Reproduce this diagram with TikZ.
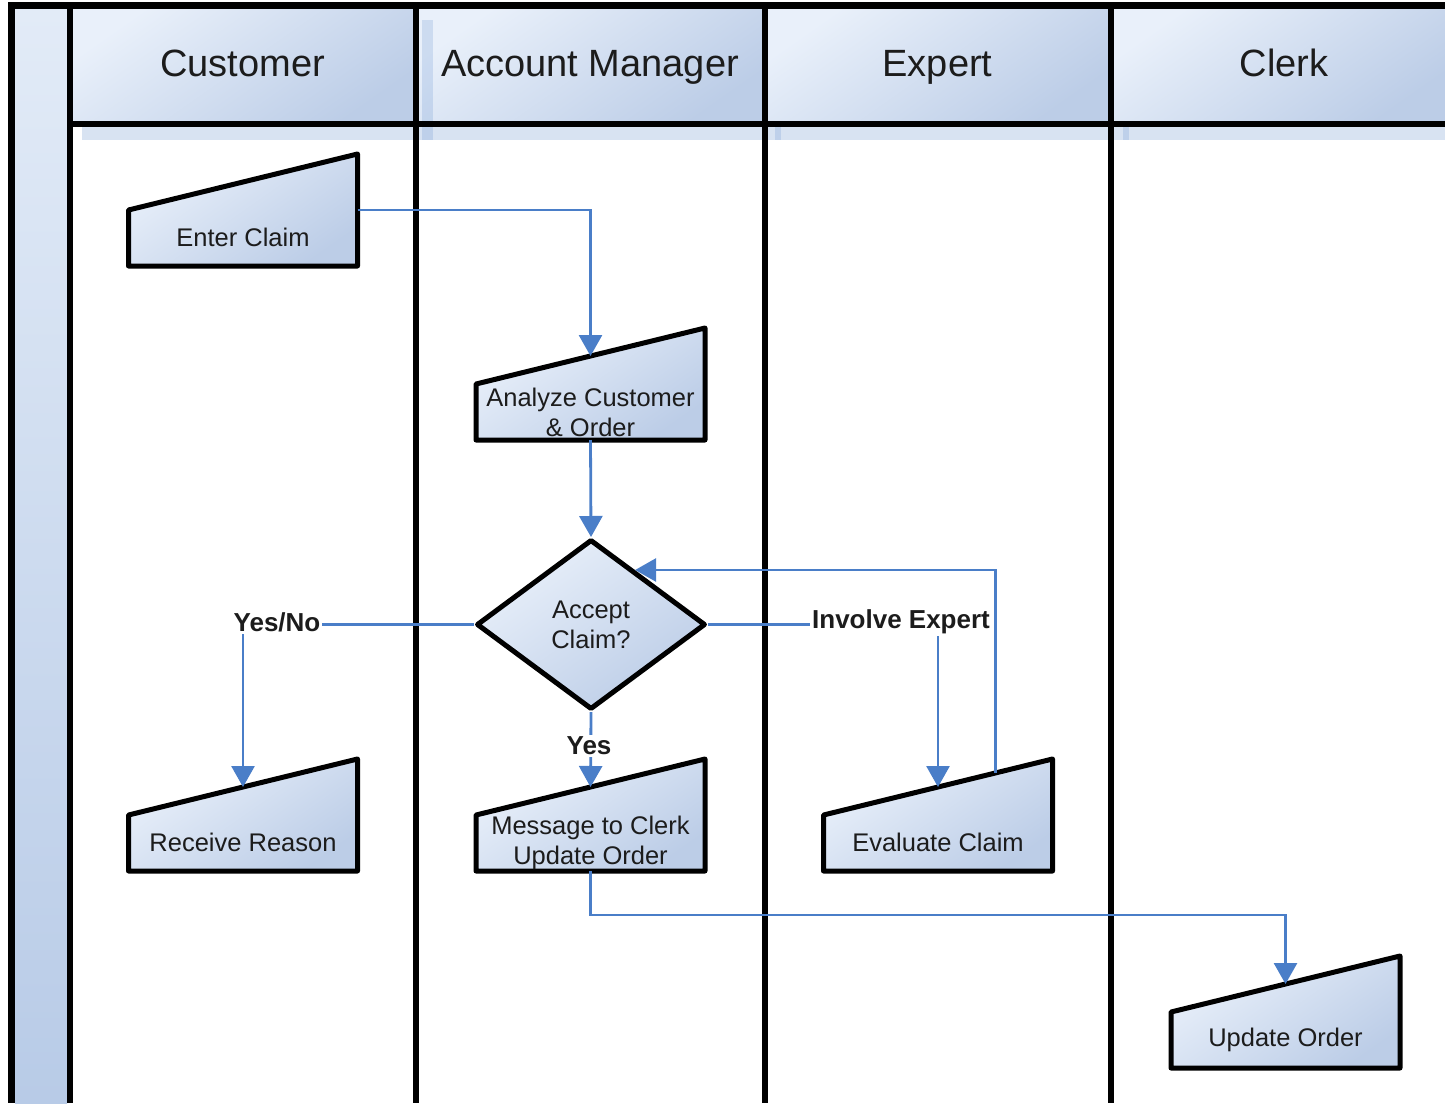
\documentclass[tikz,border=0pt]{standalone}
\usepackage{fontspec}
\setmainfont{Liberation Sans}
\usetikzlibrary{arrows.meta,shapes.geometric,calc}

\definecolor{flowblue}{RGB}{74,126,200}
\definecolor{fillA}{RGB}{233,240,250}
\definecolor{fillB}{RGB}{188,205,231}
\definecolor{poolA}{RGB}{226,235,247}
\definecolor{poolB}{RGB}{184,203,231}
\definecolor{shadowblue}{RGB}{216,227,242}
\definecolor{ink}{RGB}{28,28,28}

\tikzset{
  cellfill/.style={top color=fillA, bottom color=fillB, shading angle=35},
  hdr/.style={font=\fontsize{38}{40}\selectfont, text=ink, anchor=base},
  boxframe/.style={draw=none, inner sep=0pt, outer sep=0pt,
                   minimum width=229pt, minimum height=112pt},
  boxline/.style={draw=black, line width=5pt, line join=round, cellfill},
  boxtext/.style={font=\fontsize{25.5}{30}\selectfont, text=ink, align=center},
  decision/.style={diamond, draw=black, line width=5pt, line join=round,
                   minimum width=229pt, minimum height=170pt, inner sep=0pt,
                   cellfill, boxtext},
  flow/.style={draw=flowblue, line width=2.8pt,
               -{Triangle[width=23pt,length=21pt]}},
  lbl/.style={fill=white, font=\bfseries\fontsize{26}{28}\selectfont,
              text=ink, inner sep=2pt},
  lane/.style={draw=black, line width=6pt}
}

\begin{document}
\begin{tikzpicture}[x=1pt, y=-1pt]
\useasboundingbox (0,0) rectangle (1445,1103);
\clip (0,0) rectangle (1445,1103);

% pool column and lane headers
\shade[top color=poolA, bottom color=poolB] (15,9) rectangle (67,1103);
\foreach \a/\b in {72/413, 419/762, 767/1108, 1114/1445}
  \shade[cellfill] (\a,9) rectangle (\b,121);

% soft header shadow
\fill[shadowblue] (82,127) rectangle (1445,140);
\fill[flowblue, opacity=0.18] (422,20) rectangle (433,140);
\fill[flowblue, opacity=0.18] (775,127) rectangle (781,140);
\fill[flowblue, opacity=0.18] (1123,127) rectangle (1129,140);

% frame and lane separators
\draw[draw=black, line width=7pt] (8,5.5) -- (1445,5.5);
\draw[draw=black, line width=7pt] (11.5,2) -- (11.5,1103);
\draw[lane] (69.5,2) -- (69.5,1103);
\draw[lane] (416,2) -- (416,1103);
\draw[lane] (765,2) -- (765,1103);
\draw[lane] (1111,2) -- (1111,1103);
\draw[lane] (67,124) -- (1445,124);

% lane titles
\node[hdr] (hCustomer) at (242.5,76.5) {Customer};
\node[hdr] (hManager) at (590,76.5) {Account Manager};
\node[hdr] (hExpert) at (937.5,76.5) {Expert};
\node[hdr] (hClerk) at (1284,76.5) {Clerk};

% manual-input steps: frames
\node[boxframe] (enter) at (243,210) {};
\node[boxframe] (analyze) at (590.5,384) {};
\node[boxframe] (receive) at (243,815) {};
\node[boxframe] (msg) at (590.5,815) {};
\node[boxframe] (eval) at (938,815) {};
\node[boxframe] (upd) at (1285.5,1012) {};

\foreach \n in {enter,analyze,receive,msg,eval,upd}
  \path[boxline] (\n.south west) -- (\n.south east) -- (\n.north east)
                 -- (\n.west) -- cycle;

% step captions
\node[boxtext] (enterT) at (243,237) {Enter Claim};
\node[boxtext] (analyzeT) at (590.5,412) {Analyze Customer\\\& Order};
\node[boxtext] (receiveT) at (243,842) {Receive Reason};
\node[boxtext] (msgT) at (590.5,842.5) {Message to Clerk\\Update Order};
\node[boxtext] (evalT) at (938,842) {Evaluate Claim};
\node[boxtext] (updT) at (1285.5,1040) {Update Order};

% decision
\node[decision] (accept) at (591,624.5) {Accept\\Claim?};

% attachment points on the slanted tops
\coordinate (analyzeIn) at ($(analyze.west)!0.5!(analyze.north east)$);
\coordinate (receiveIn) at ($(receive.west)!0.5!(receive.north east)$);
\coordinate (msgIn) at ($(msg.west)!0.5!(msg.north east)$);
\coordinate (evalIn) at ($(eval.west)!0.5!(eval.north east)$);
\coordinate (evalOut) at ($(eval.west)!0.75!(eval.north east)$);
\coordinate (updIn) at ($(upd.west)!0.5!(upd.north east)$);
\coordinate (acceptIn) at ($(accept.north)!0.377!(accept.east)$);
\coordinate (bend) at (1285.5,915);

% flows
\draw[flow] (enter.east) -| (analyzeIn);
\draw[flow] (analyze.south) -- (accept.north);
\draw[flow] (accept.west) -| (receiveIn);
\draw[flow] (accept.east) -| (evalIn);
\draw[flow] (evalOut) |- (acceptIn);
\draw[flow] (accept.south) -- (msgIn);
\draw[flow] (msg.south) |- (bend) -- (updIn);

% flow labels
\node[lbl] (yesno) at (277,622) {Yes/No};
\node[lbl] (involve) at (901,622) {Involve Expert};
\node[lbl] (yes) at (589,746) {Yes};
\end{tikzpicture}
\end{document}
